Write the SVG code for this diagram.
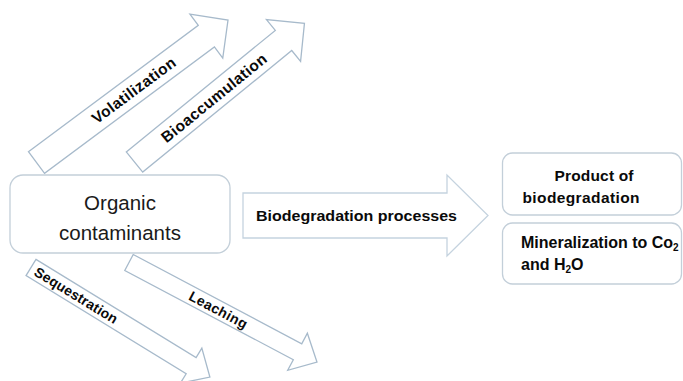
<svg xmlns="http://www.w3.org/2000/svg" width="683" height="381" viewBox="0 0 683 381">
<defs>
<style>
.arr{fill:#ffffff;stroke:#a7bacb;stroke-width:1.3;stroke-linejoin:miter}
.box{fill:#ffffff;stroke:#c3cfd9;stroke-width:1.3}
.lbl{font-family:"Liberation Sans",Arial,sans-serif;font-weight:bold;fill:#0a0a0a}
.reg{font-family:"Liberation Sans",Arial,sans-serif;fill:#1a1a1a}
</style>
</defs>
<rect width="683" height="381" fill="#ffffff"/>
<g id="connectors">
<g id="volatilization" transform="translate(36.5,162.5) rotate(-36.65)">
<path class="arr" d="M0,-13.5 H211.7 V-27.5 L238.7,0 L211.7,27.5 V13.5 H0 Z"/>
<text class="lbl" x="121" y="5.5" font-size="15.5" text-anchor="middle" textLength="100" lengthAdjust="spacing">Volatilization</text>
</g>
<g id="bioaccumulation" transform="translate(134.5,162) rotate(-39.2)">
<path class="arr" d="M0,-13 H192.3 V-27 L219.3,0 L192.3,27 V13 H0 Z"/>
<text class="lbl" x="102" y="6" font-size="15.5" text-anchor="middle" textLength="131" lengthAdjust="spacing">Bioaccumulation</text>
</g>
<g id="sequestration" transform="translate(31,267.5) rotate(31.5)">
<path class="arr" d="M0,-9.5 H187.8 V-20.5 L209.8,0 L187.8,20.5 V9.5 H0 Z"/>
<text class="lbl" x="53" y="5" font-size="14" text-anchor="middle" textLength="95" lengthAdjust="spacing">Sequestration</text>
</g>
<g id="leaching" transform="translate(129,262.5) rotate(27.9)">
<path class="arr" d="M0,-9 H190.7 V-21 L212.7,0 L190.7,21 V9 H0 Z"/>
<text class="lbl" x="101" y="5" font-size="14" text-anchor="middle" textLength="64" lengthAdjust="spacing">Leaching</text>
</g>
<g id="biodegradation-processes">
<path class="arr" style="stroke:#c5d3df" d="M243,193 H447 V175 L488,215.5 L447,256 V238 H243 Z"/>
<text class="lbl" x="256" y="221" font-size="15.5" textLength="201" lengthAdjust="spacingAndGlyphs">Biodegradation processes</text>
</g>
</g>
<g id="organic-contaminants">
<rect class="box" x="10" y="175" width="220" height="78" rx="13"/>
<text class="reg" x="120" y="210" font-size="20.5" text-anchor="middle">Organic</text>
<text class="reg" x="120" y="240" font-size="20.5" text-anchor="middle">contaminants</text>
</g>
<g id="product-of-biodegradation">
<rect class="box" x="502.5" y="153" width="179" height="62" rx="10"/>
<text class="lbl" x="594" y="181" font-size="15.5" text-anchor="middle" textLength="79" lengthAdjust="spacing">Product of</text>
<text class="lbl" x="581" y="203" font-size="15.5" text-anchor="middle" textLength="117" lengthAdjust="spacing">biodegradation</text>
</g>
<g id="mineralization">
<rect class="box" x="502.5" y="223" width="179" height="61" rx="10"/>
<text class="lbl" x="521" y="248" font-size="16">Mineralization to Co<tspan font-size="10" dy="3">2</tspan></text>
<text class="lbl" x="521" y="270" font-size="16">and H<tspan font-size="10" dy="3">2</tspan><tspan dy="-3">O</tspan></text>
</g>
</svg>
